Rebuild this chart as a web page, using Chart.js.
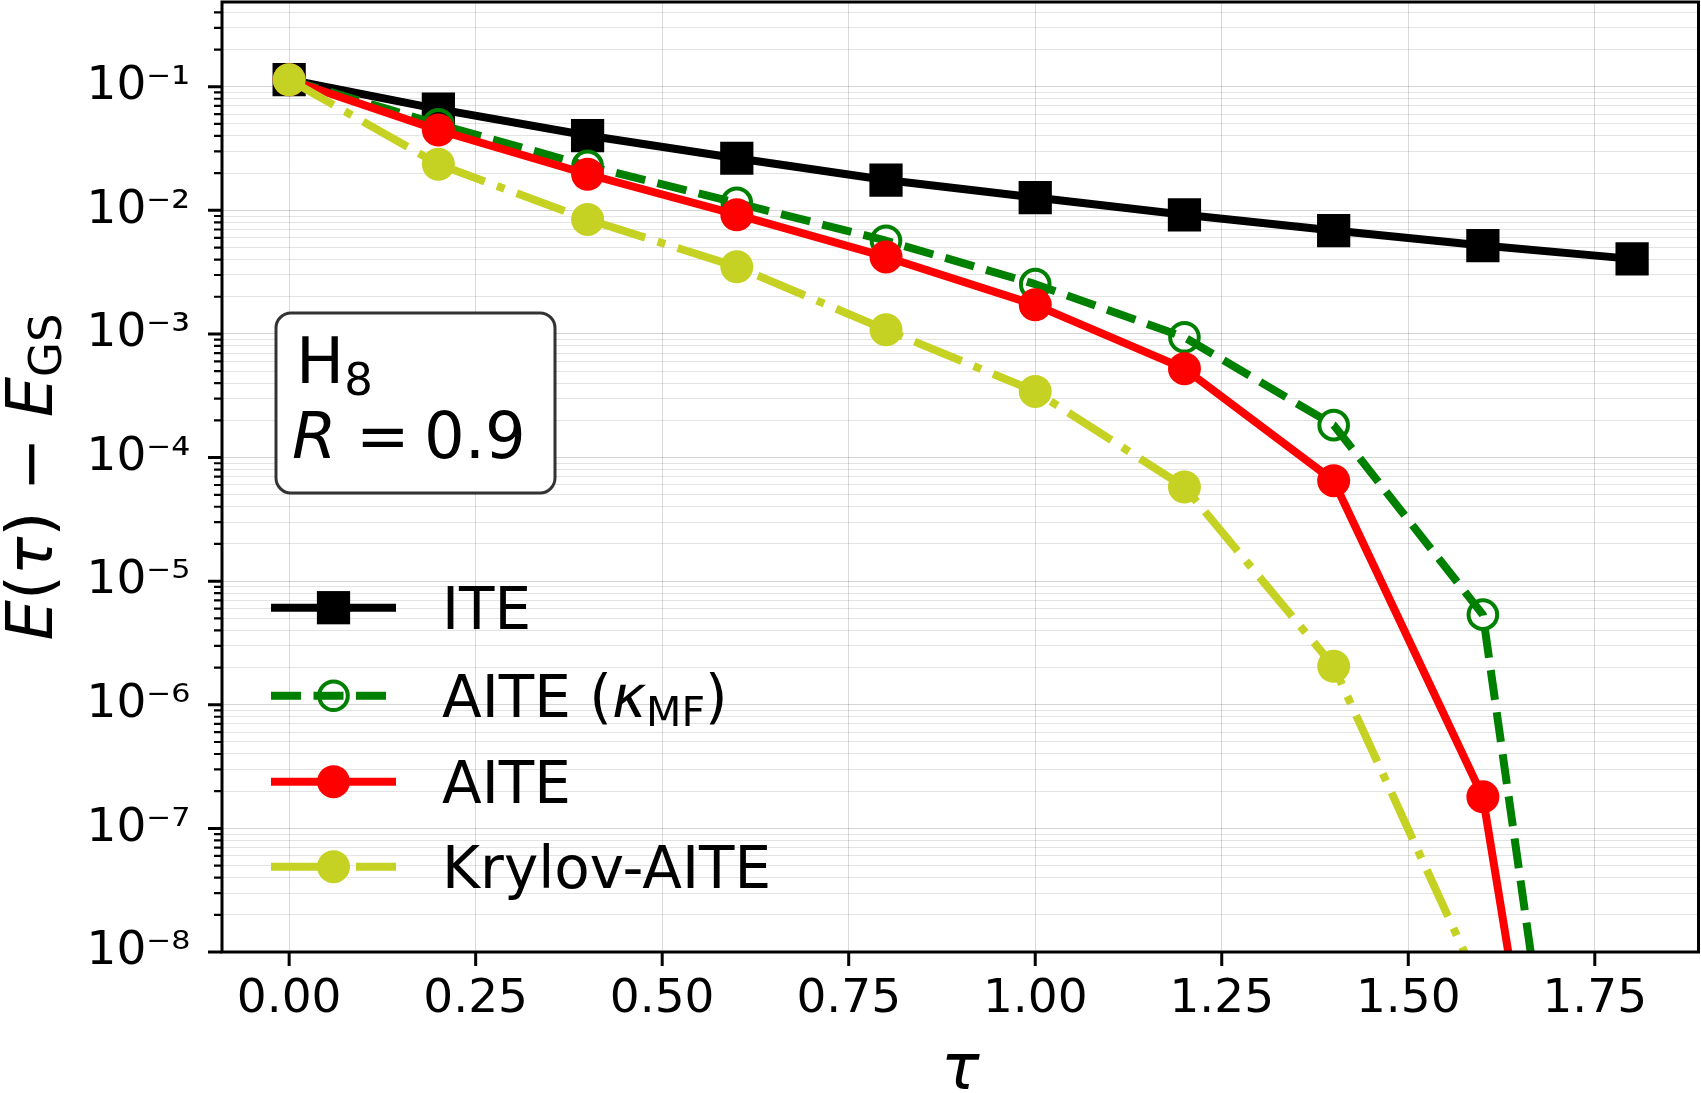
<!DOCTYPE html>
<html>
<head>
<meta charset="utf-8">
<script src="https://cdn.jsdelivr.net/npm/chart.js"></script>
<style>
  html, body { margin: 0; padding: 0; background: #fff; }
  canvas { display: block; }
</style>
</head>
<body>
<canvas id="erro" width="1701" height="1093"></canvas>
<script>
// tau values and E(tau) - E_GS for each method
var taus = [0, 0.2, 0.4, 0.6, 0.8, 1.0, 1.2, 1.4, 1.6, 1.8];
var iteErr = [0.114, 0.0659, 0.0403, 0.0264, 0.0176, 0.0127, 0.0092, 0.00687, 0.00519, 0.00405];
var aiteMfErr = [0.114, 0.0497, 0.0229, 0.0115, 0.00568, 0.00253, 0.00094, 1.83e-4, 5.36e-6, 1.6e-14];
var aiteErr = [0.114, 0.0446, 0.0196, 0.00922, 0.0042, 0.00172, 5.24e-4, 6.5e-5, 1.8e-7, 7.5e-15];
var krylovErr = [0.114, 0.0236, 0.00845, 0.0035, 0.00108, 3.43e-4, 5.78e-5, 2.05e-6, 4.7e-9];

var xTicks = [0, 0.25, 0.5, 0.75, 1.0, 1.25, 1.5, 1.75];
var xTickLabels = ['0.00', '0.25', '0.50', '0.75', '1.00', '1.25', '1.50', '1.75'];
var yDecades = [-8, -7, -6, -5, -4, -3, -2, -1];
var yTickLabels = ['10⁻⁸', '10⁻⁷', '10⁻⁶', '10⁻⁵', '10⁻⁴', '10⁻³', '10⁻²', '10⁻¹'];

var FAM = '"DejaVu Sans"';
var KRY = '#c5d223';

function pontos(valores) {
    return valores.map(function (v, i) { return {x: taus[i], y: v}; });
}

function desenhaPartes(ctx, partes, x, y) {
    partes.forEach(function (p) {
        ctx.font = p.font;
        ctx.fillText(p.t, x, y + (p.dy || 0));
        x += ctx.measureText(p.t).width;
    });
    return x;
}

function larguraPartes(ctx, partes) {
    var w = 0;
    partes.forEach(function (p) { ctx.font = p.font; w += ctx.measureText(p.t).width; });
    return w;
}

var normal58 = '58px ' + FAM, italic58 = 'italic 58px ' + FAM, sub58 = '41px ' + FAM;
var legendLabels = [
    [{t: 'ITE', font: normal58}],
    [{t: 'AITE (', font: normal58}, {t: 'κ', font: italic58}, {t: 'MF', font: sub58, dy: 9}, {t: ')', font: normal58}],
    [{t: 'AITE', font: normal58}],
    [{t: 'Krylov-AITE', font: normal58}]
];

var normal64 = '64px ' + FAM, italic64 = 'italic 64px ' + FAM;
var yTitle = [
    {t: 'E', font: italic64}, {t: '(', font: normal64}, {t: 'τ', font: italic64},
    {t: ')', font: normal64}, {t: ' − ', font: normal64}, {t: 'E', font: italic64},
    {t: 'GS', font: '45px ' + FAM, dy: 9}
];

var extras = {
    id: 'extras',
    afterDraw: function (chart) {
        var ctx = chart.ctx, a = chart.chartArea;
        var xs = chart.scales.x, ys = chart.scales.y;
        ctx.save();

        // annotation box
        var bx = 276, by = 313, bw = 279, bh = 180, r = 15;
        ctx.beginPath();
        ctx.moveTo(bx + r, by);
        ctx.arcTo(bx + bw, by, bx + bw, by + bh, r);
        ctx.arcTo(bx + bw, by + bh, bx, by + bh, r);
        ctx.arcTo(bx, by + bh, bx, by, r);
        ctx.arcTo(bx, by, bx + bw, by, r);
        ctx.closePath();
        ctx.fillStyle = '#fff';
        ctx.fill();
        ctx.lineWidth = 3;
        ctx.strokeStyle = 'rgba(0,0,0,0.8)';
        ctx.stroke();
        ctx.fillStyle = '#000';
        ctx.textBaseline = 'alphabetic';
        ctx.textAlign = 'left';
        desenhaPartes(ctx, [{t: 'H', font: normal64}, {t: '8', font: '45px ' + FAM, dy: 12}], 296, 383);
        ctx.font = italic64;
        ctx.fillText('R', 292, 458);
        ctx.font = normal64;
        ctx.fillText('=', 356, 458);
        ctx.fillText('0.9', 424, 458);

        // legend
        var rows = [607.7, 695.7, 781.7, 866.7];
        chart.data.datasets.forEach(function (ds, i) {
            var y = rows[i];
            ctx.beginPath();
            ctx.setLineDash(ds.borderDash || []);
            ctx.lineDashOffset = 0;
            ctx.lineWidth = ds.borderWidth;
            ctx.strokeStyle = ds.borderColor;
            ctx.lineCap = 'butt';
            ctx.moveTo(271, y);
            ctx.lineTo(396, y);
            ctx.stroke();
            ctx.setLineDash([]);
            var mx = 333.5;
            if (ds.pointStyle === 'rect') {
                var s = ds.pointRadius * Math.SQRT1_2;
                ctx.fillStyle = ds.pointBackgroundColor;
                ctx.fillRect(mx - s, y - s, 2 * s, 2 * s);
            } else {
                ctx.beginPath();
                ctx.arc(mx, y, ds.pointRadius, 0, Math.PI * 2);
                ctx.fillStyle = ds.pointBackgroundColor;
                ctx.fill();
                if (ds.pointBorderWidth > 0) {
                    ctx.lineWidth = ds.pointBorderWidth;
                    ctx.strokeStyle = ds.pointBorderColor;
                    ctx.stroke();
                }
            }
            ctx.fillStyle = '#000';
            desenhaPartes(ctx, legendLabels[i], 442, y + 21);
        });

        // spines
        ctx.strokeStyle = '#000';
        ctx.lineWidth = 3;
        ctx.strokeRect(a.left, a.top, a.right - a.left, a.bottom - a.top);

        // outward ticks
        ctx.beginPath();
        xs.ticks.forEach(function (t) {
            var px = xs.getPixelForValue(t.value);
            ctx.moveTo(px, a.bottom);
            ctx.lineTo(px, a.bottom + 14);
        });
        ys.ticks.forEach(function (t) {
            if (!t.major) return;
            var py = ys.getPixelForValue(t.value);
            ctx.moveTo(a.left - 14, py);
            ctx.lineTo(a.left, py);
        });
        ctx.stroke();
        ctx.beginPath();
        ctx.lineWidth = 2.2;
        ys.ticks.forEach(function (t) {
            if (t.major) return;
            var py = ys.getPixelForValue(t.value);
            ctx.moveTo(a.left - 8, py);
            ctx.lineTo(a.left, py);
        });
        ctx.stroke();

        // axis titles
        ctx.fillStyle = '#000';
        ctx.font = italic64;
        ctx.textAlign = 'center';
        ctx.fillText('τ', (a.left + a.right) / 2, 1089);
        ctx.textAlign = 'left';
        ctx.save();
        ctx.translate(52, (a.top + a.bottom) / 2);
        ctx.rotate(-Math.PI / 2);
        desenhaPartes(ctx, yTitle, -larguraPartes(ctx, yTitle) / 2, 0);
        ctx.restore();

        ctx.restore();
    }
};

var ctx = document.getElementById('erro').getContext('2d');
var chart = new Chart(ctx, {
    type: 'line',

    data: {
        datasets: [{
            label: 'ITE',
            data: pontos(iteErr),
            borderColor: '#000',
            backgroundColor: '#000',
            borderWidth: 8,
            pointStyle: 'rect',
            pointRadius: 23.5,
            pointBorderWidth: 0,
            pointBackgroundColor: '#000',
            order: 4
        }, {
            label: 'AITE (κMF)',
            data: pontos(aiteMfErr),
            borderColor: '#008000',
            backgroundColor: '#008000',
            borderWidth: 8,
            borderDash: [30, 12.5],
            pointStyle: 'circle',
            pointRadius: 14.3,
            pointBorderWidth: 4,
            pointBorderColor: '#008000',
            pointBackgroundColor: 'rgba(0,0,0,0)',
            order: 3
        }, {
            label: 'AITE',
            data: pontos(aiteErr),
            borderColor: '#ff0000',
            backgroundColor: '#ff0000',
            borderWidth: 8,
            pointStyle: 'circle',
            pointRadius: 16.5,
            pointBorderWidth: 0,
            pointBackgroundColor: '#ff0000',
            order: 2
        }, {
            label: 'Krylov-AITE',
            data: pontos(krylovErr),
            borderColor: KRY,
            backgroundColor: KRY,
            borderWidth: 8,
            borderDash: [51, 13, 8, 13],
            pointStyle: 'circle',
            pointRadius: 16.5,
            pointBorderWidth: 0,
            pointBackgroundColor: KRY,
            order: 1
        }]
    },

    options: {
        responsive: false,
        animation: false,
        events: [],
        clip: 0,
        layout: {autoPadding: false, padding: {top: 2, right: 2.5, bottom: 0, left: 0}},
        elements: {line: {tension: 0, fill: false, borderJoinStyle: 'round'}},
        plugins: {legend: {display: false}, tooltip: {enabled: false}},
        scales: {
            x: {
                type: 'linear',
                min: -0.09,
                max: 1.889,
                border: {display: false},
                grid: {drawTicks: false, color: 'rgba(0,0,0,0.15)', lineWidth: 1},
                ticks: {
                    autoSkip: false,
                    maxRotation: 0,
                    padding: 20,
                    color: '#000',
                    font: {family: 'DejaVu Sans', size: 47},
                    callback: function (value, index) { return xTickLabels[index]; }
                },
                afterBuildTicks: function (axis) {
                    axis.ticks = xTicks.map(function (v) { return {value: v}; });
                },
                afterFit: function (axis) {
                    axis.height = 141;
                    axis.paddingLeft = 0;
                    axis.paddingRight = 0;
                }
            },
            y: {
                type: 'logarithmic',
                min: 1e-8,
                max: 0.485,
                border: {display: false},
                grid: {
                    drawTicks: false,
                    lineWidth: 1,
                    color: function (c) { return c.tick && c.tick.major ? 'rgba(0,0,0,0.17)' : 'rgba(0,0,0,0.11)'; }
                },
                ticks: {
                    autoSkip: false,
                    padding: 32,
                    color: '#000',
                    font: {family: 'DejaVu Sans', size: 47},
                    callback: function (value, index, ticks) {
                        if (!ticks[index].major) return '';
                        return yTickLabels[yDecades.indexOf(Math.round(Math.log10(value)))];
                    }
                },
                afterBuildTicks: function (axis) {
                    var t = [];
                    yDecades.forEach(function (e) {
                        for (var k = 1; k <= 9; k++) {
                            var v = k * Math.pow(10, e);
                            if (v <= axis.max) t.push({value: v, major: k === 1});
                        }
                    });
                    axis.ticks = t;
                },
                afterFit: function (axis) {
                    axis.width = 222;
                    axis.paddingTop = 0;
                    axis.paddingBottom = 0;
                }
            }
        }
    },
    plugins: [extras]
});
</script>
</body>
</html>
